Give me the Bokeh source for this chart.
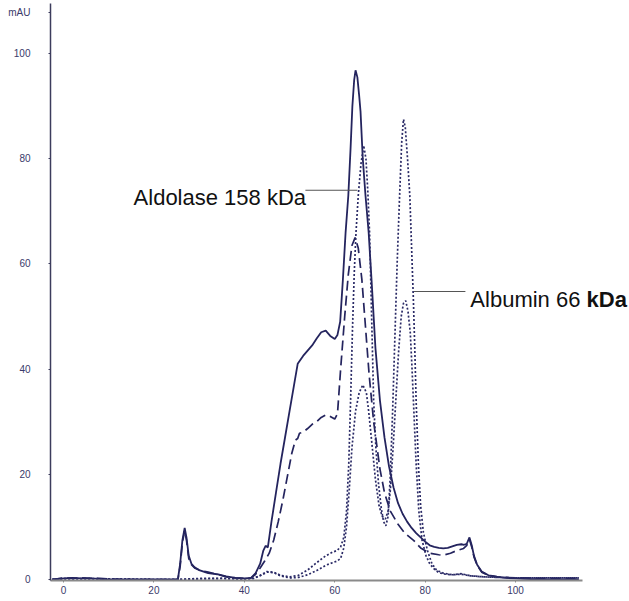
from bokeh.plotting import figure
from bokeh.models import Range1d, FixedTicker, Label, CustomJSTickFormatter
from bokeh.embed import file_html
from bokeh.resources import INLINE

# ---- data (elution volume vs absorbance, mAU) ----
solid = [(-2.5, 0), (0, 0.2), (2, 0.3), (4, 0.2), (6, 0.2), (8, 0.1), (10, 0), (15, 0), (20, 0), (24, 0),
         (25.3, 0), (25.8, 3), (26.3, 7.5), (26.8, 9.8), (27.2, 8), (27.7, 4.5), (28.3, 3), (29, 2.3), (30, 1.8),
         (32, 1.2), (34, 1.0), (36, 0.6), (38, 0.3), (40, 0.2), (41.5, 0.3), (42.5, 1.2), (43.5, 3), (44.2, 5.5),
         (44.7, 6.4), (45.2, 6.1), (46, 11), (47, 16.5), (48, 22), (49, 27), (50, 32), (51, 37), (51.8, 41),
         (53, 42.5), (54, 43.5), (55, 44.5), (56, 45.8), (57, 47), (58, 47.3), (59, 46.3), (60, 45.7),
         (60.6, 46.5), (61.2, 49), (61.8, 57), (62.4, 66), (63.0, 73), (63.5, 82), (63.9, 90), (64.3, 95),
         (64.6, 96.8), (65.0, 95.5), (65.4, 92), (65.7, 89), (66.2, 80), (66.8, 73), (67.5, 66), (68.2, 56),
         (69, 44), (70, 34), (71, 27), (72, 21.5), (73, 17.5), (74, 14.5), (75, 12.5), (76, 11), (77, 9.8),
         (78, 8.8), (79, 8), (80, 7.2), (81, 6.5), (82, 6.2), (83, 6), (84, 5.9), (85, 6), (86, 6.3), (87, 6.6),
         (88, 6.7), (88.6, 6.6), (89.2, 6.8), (89.8, 8), (90.3, 6.5), (90.8, 4.5), (91.5, 2.8), (92.5, 1.5),
         (94, 0.8), (96, 0.5), (98, 0.3), (100, 0.2), (102, 0.1), (105, 0.05), (110, 0), (114, 0)]

dashed = [(-2.5, 0), (0, 0.3), (2, 0.2), (4, 0.3), (6, 0.2), (8, 0.2), (10, 0.1), (15, 0), (20, 0), (24, 0),
          (25.3, 0), (25.8, 2.5), (26.3, 7), (26.8, 9.3), (27.2, 7.5), (27.7, 4), (28.3, 2.8), (29, 2.2), (30, 1.8),
          (32, 1.4), (34, 1.0), (36, 0.5), (38, 0.3), (40, 0.2), (41.5, 0.3), (42.5, 1), (43.5, 2.2), (44.5, 3.5),
          (45.5, 5), (46.5, 7.5), (47.5, 11), (48.5, 15), (49.5, 19.5), (50.5, 24), (51.3, 26.5), (51.8, 26.8),
          (52.2, 27.8), (53, 28), (54, 28.7), (55, 29.5), (56, 30), (57, 30.8), (58, 31.3), (59, 31), (60, 30.5),
          (60.6, 31.5), (61.3, 40), (62.2, 50), (63, 58), (63.8, 63.5), (64.5, 65), (65.2, 63), (66, 57),
          (66.8, 48), (67.6, 39), (68.6, 30), (70, 21), (71, 16.5), (72.3, 13), (74, 10.5), (75.5, 8.8),
          (77.5, 7.4), (79, 6), (81, 5), (83, 4.7), (84, 4.6), (85.6, 5), (87, 5.5), (88.5, 5.9), (89.2, 6.5),
          (89.8, 7.6), (90.3, 6.2), (90.8, 4.3), (91.5, 2.7), (92.5, 1.4), (94, 0.8), (96, 0.5), (98, 0.4),
          (100, 0.3), (102, 0.3), (105, 0.2), (110, 0.2), (114, 0.2)]

dotted_high = [(-2.5, 0), (0, 0.2), (3, 0.1), (6, 0.2), (10, 0.1), (20, 0), (25, 0), (30, 0.2), (35, 0.2),
               (40, 0.1), (42, 0.2), (43.5, 0.8), (45, 1.5), (46.5, 1.4), (48, 0.8), (50, 0.5), (52, 0.8),
               (54, 1.8), (56, 3.2), (58, 4.5), (59.5, 5.2), (60.5, 5.5), (61.3, 6.2), (62, 8), (62.6, 13),
               (63.1, 22), (63.5, 34), (63.9, 47), (64.3, 58), (64.7, 66), (65.2, 73), (65.8, 79), (66.4, 82.5),
               (66.9, 80), (67.3, 74), (67.7, 66), (68.1, 52), (68.6, 34), (69.1, 25), (69.7, 18), (70.3, 13.5),
               (70.8, 11), (71.3, 10.2), (71.8, 12), (72.3, 20), (72.8, 32), (73.3, 46), (73.8, 60), (74.3, 72),
               (74.8, 83), (75.2, 87.5), (75.6, 86), (76.1, 80), (76.6, 73), (77.0, 63), (77.4, 53), (77.7, 44),
               (78.0, 34), (78.5, 22), (79.0, 14), (79.6, 9), (80.5, 5.5), (81.5, 3), (82.5, 1.8), (84, 1.2),
               (86, 0.9), (88, 1.0), (90, 0.7), (93, 0.5), (96, 0.4), (100, 0.3), (105, 0.3), (110, 0.3),
               (114, 0.3)]

dotted_low = [(-2.5, 0), (0, 0.1), (3, 0.2), (6, 0.1), (10, 0.1), (20, 0), (25, 0), (30, 0.1), (35, 0.2),
              (40, 0.1), (42, 0.2), (43.5, 0.7), (45, 1.4), (46.5, 1.3), (48, 0.7), (50, 0.3), (52, 0.4),
              (54, 0.9), (56, 1.7), (58, 2.7), (59.5, 3.2), (60.5, 3.5), (61.3, 4), (62, 6), (62.6, 10),
              (63.2, 17), (63.8, 25), (64.6, 32), (65.4, 35.5), (66.2, 37), (67, 35.5), (67.5, 32), (68.2, 26),
              (69, 19), (69.8, 14), (70.5, 12), (71.2, 11.5), (71.8, 13), (72.3, 17), (72.9, 25), (73.5, 34),
              (74.1, 43), (74.7, 50), (75.2, 52.5), (75.7, 53), (76.2, 51), (76.7, 47), (77.1, 40), (77.5, 32),
              (78, 22), (78.6, 13), (79.3, 7.5), (80.2, 4.5), (81, 3), (82, 2), (83, 1.3), (84.5, 1.0), (86, 0.9),
              (88, 1.1), (90, 0.7), (93, 0.5), (96, 0.4), (100, 0.3), (105, 0.3), (110, 0.3), (114, 0.3)]

x_ticks = [0, 20, 40, 60, 80, 100]
y_ticks = [0, 20, 40, 60, 80, 100]
y_unit = "mAU"
label_aldolase = "Aldolase 158 kDa"
label_albumin = "Albumin 66 "
label_albumin_unit = "kDa"

NAVY = "#24245e"
DOT = "#2a2a66"
TICK_COL = "#3a3a6a"
FONT = "Liberation Sans"
UNIT_TICK = 107.8

p = figure(width=629, height=598, output_backend="svg", toolbar_location=None,
           x_range=Range1d(-2.88, 125.2), y_range=Range1d(-0.19, 109.5),
           min_border_left=50, min_border_right=0, min_border_top=3, min_border_bottom=18)
p.outline_line_color = None
p.xgrid.visible = False
p.ygrid.visible = False
p.background_fill_color = "white"
p.border_fill_color = "white"

for data, dash, w, col in [(solid, "solid", 1.8, NAVY), (dashed, "10 5", 1.7, NAVY),
                           (dotted_high, "2 2", 1.7, DOT), (dotted_low, "2 2", 1.7, DOT)]:
    xs = [d[0] for d in data]
    ys = [d[1] for d in data]
    p.line(xs, ys, line_color=col, line_width=w, line_dash=dash)

# axes
p.xaxis.ticker = FixedTicker(ticks=x_ticks)
p.yaxis.ticker = FixedTicker(ticks=y_ticks + [UNIT_TICK])
p.yaxis.formatter = CustomJSTickFormatter(args=dict(unit=y_unit, ut=UNIT_TICK),
                                          code="return tick > 104 ? unit : tick.toFixed(0);")
p.xaxis.bounds = (-2.88, 114.8)
p.xaxis.minor_tick_line_color = None
p.yaxis.minor_tick_line_color = None
p.xaxis.axis_line_color = "#8a8a8a"
p.xaxis.axis_line_width = 2
p.yaxis.axis_line_color = "#3c3c5c"
p.yaxis.axis_line_width = 1.5
p.xaxis.major_tick_line_color = "#8a8a8a"
p.yaxis.major_tick_line_color = "#3c3c5c"
p.xaxis.major_tick_in = 0
p.xaxis.major_tick_out = 2
p.yaxis.major_tick_in = 0
p.yaxis.major_tick_out = 2
p.yaxis.major_label_standoff = 18
p.xaxis.major_label_standoff = 3
for ax in (p.xaxis, p.yaxis):
    ax.major_label_text_font = FONT
    ax.major_label_text_font_size = "10px"
    ax.major_label_text_color = TICK_COL

# annotations with leader lines
p.line([53.5, 65.0], [74.0, 74.0], line_color="#555555", line_width=1.2)
p.line([77.5, 88.9], [54.75, 54.75], line_color="#555555", line_width=1.2)
p.add_layout(Label(x=15.5, y=72.6, text=label_aldolase, text_font=FONT, text_font_size="22px",
                   text_color="#111111", text_baseline="alphabetic", text_align="left"))
p.add_layout(Label(x=90.0, y=53.2, text=label_albumin, text_font=FONT, text_font_size="22px",
                   text_color="#111111", text_baseline="alphabetic", text_align="left"))
p.add_layout(Label(x=115.7, y=53.2, text=label_albumin_unit, text_font=FONT, text_font_size="22px",
                   text_font_style="bold", text_color="#111111", text_baseline="alphabetic", text_align="left"))

open("out.html", "w").write(file_html(p, INLINE))
